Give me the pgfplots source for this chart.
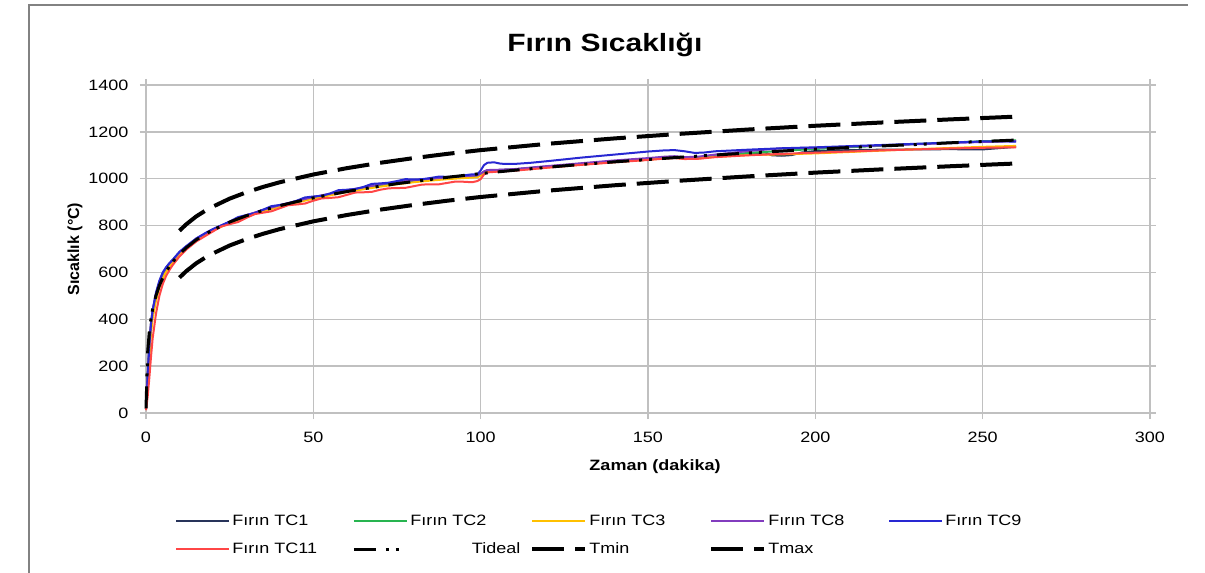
\documentclass[border=0pt]{standalone}
\usepackage{fontspec}
\setmainfont{Liberation Sans}[FakeStretch=1.2]
\newfontfamily\uprightsans{Liberation Sans}
\usepackage{pgfplots}
\pgfplotsset{compat=1.18}

\definecolor{tcone}{RGB}{40,52,90}
\definecolor{tctwo}{RGB}{40,180,80}
\definecolor{tcthree}{RGB}{255,192,0}
\definecolor{tceight}{RGB}{130,60,190}
\definecolor{tcnine}{RGB}{40,40,210}
\definecolor{tceleven}{RGB}{255,70,70}
\definecolor{gridgray}{RGB}{192,192,192}
\definecolor{framegray}{RGB}{130,130,130}

\newcommand\ticksfont{\fontsize{15}{16}\selectfont}

\begin{document}
\begin{tikzpicture}
\path[use as bounding box] (-146pt,-160pt) rectangle (1059pt,413pt);
\draw[framegray, line width=1.5pt] (-117pt,-160pt) -- (-117pt,408pt) -- (1042pt,408pt);

\begin{axis}[
    at={(0,0)}, anchor=south west,
    scale only axis, width=1004pt, height=328pt,
    clip=false,
    xmin=0, xmax=300, ymin=0, ymax=1400,
    xtick={0,50,...,300}, ytick={0,200,...,1400},
    /pgf/number format/1000 sep={},
    /pgf/number format/assume math mode=true,
    ticklabel style={font=\ticksfont},
    xticklabel style={yshift=-9pt},
    yticklabel style={xshift=-8pt},
    grid=major,
    major grid style={draw=gridgray, line width=1.3pt},
    axis line style={draw=gridgray, line width=1.3pt},
    tick style={draw=gridgray, line width=1.3pt},
    tick align=outside, major tick length=6pt,
    every axis plot/.append style={line join=round},
    legend image code/.code={\draw[#1, line cap=butt] (0pt,0pt) -- (53pt,0pt);},
    legend columns=5,
    legend cell align=left,
    legend style={
        at={(axis description cs:0.029,-0.302)}, anchor=north west,
        draw=none, fill=none, inner sep=0pt,
        font=\fontsize{15}{16}\selectfont,
        nodes={text width=110pt, text height=11pt, text depth=3pt, inner sep=2pt, align=left},
        /tikz/every even column/.append style={column sep=8pt},
        row sep=10pt,
    },
]

% Fırın TC1
\addplot[tcone, line width=2pt] coordinates {
(0,25) (0.5,170) (1,300) (1.5,385) (2,440) (3,505) (4,555) (5,590) (6,615) (7,635) (8,650)
(10,685) (12,708) (15,742) (18,768) (20,783) (25,815) (30,843) (35,866) (40,886) (45,903)
(50,921) (55,934) (60,949) (65,960) (70,972) (75,982) (80,991) (85,998) (90,1004) (95,1009)
(99,1012) (100,1020) (101,1030) (102,1036) (105,1037) (110,1040) (120,1052) (130,1064)
(140,1075) (150,1085) (155,1092) (158,1094) (161,1089) (165,1090) (170,1097) (180,1108)
(185,1112) (187,1100) (190,1098) (193,1101) (196,1112) (200,1118) (210,1122) (220,1124)
(230,1125) (240,1126) (250,1125) (260,1136)
};
\addlegendentry{Fırın TC1}

% Fırın TC2
\addplot[tctwo, line width=2pt] coordinates {
(0,20) (0.5,140) (1,270) (1.5,365) (2,425) (3,495) (4,548) (5,585) (6,612) (7,632) (8,648)
(10,682) (12,706) (15,740) (18,766) (20,781) (25,813) (30,841) (35,864) (40,884) (45,902)
(50,919) (55,933) (60,947) (65,959) (70,971) (75,981) (80,990) (85,997) (90,1003) (95,1008)
(99,1011) (100,1018) (101,1029) (102,1035) (105,1036) (110,1039) (120,1051) (130,1063)
(140,1074) (150,1084) (155,1091) (158,1093) (161,1088) (165,1089) (170,1097) (180,1110)
(190,1119) (200,1127) (210,1134) (220,1141) (230,1148) (240,1154) (250,1160) (260,1164)
};
\addlegendentry{Fırın TC2}

% Fırın TC3
\addplot[tcthree, line width=2pt] coordinates {
(0,20) (0.5,120) (1,240) (1.5,340) (2,405) (3,480) (4,535) (5,575) (6,603) (7,625) (8,642)
(10,678) (12,703) (15,737) (18,763) (20,779) (25,811) (30,838) (35,861) (40,881) (45,898)
(50,915) (55,929) (60,943) (65,955) (70,966) (75,976) (80,985) (85,992) (90,998) (95,1003)
(99,1006) (100,1013) (101,1025) (102,1031) (105,1033) (110,1036) (120,1048) (130,1060)
(140,1071) (150,1081) (155,1087) (158,1089) (161,1085) (165,1086) (170,1093) (180,1101)
(190,1104) (200,1108) (210,1114) (220,1120) (230,1126) (240,1131) (250,1136) (260,1140)
};
\addlegendentry{Fırın TC3}

% Fırın TC8
\addplot[tceight, line width=2pt] coordinates {
(0,22) (0.5,160) (1,295) (1.5,382) (2,438) (3,510) (4,560) (5,596) (6,620) (7,638) (8,652)
(10,686) (12,710) (15,744) (18,769) (20,784) (25,816) (30,844) (35,867) (40,887) (45,905)
(50,922) (55,936) (60,951) (65,963) (70,976) (75,986) (80,994) (85,1000) (90,1006) (95,1011)
(99,1014) (100,1021) (101,1031) (102,1037) (105,1038) (110,1041) (120,1054) (130,1066)
(140,1078) (150,1088) (155,1094) (158,1096) (161,1092) (165,1094) (170,1103) (180,1118)
(185,1124) (190,1130) (195,1131) (200,1132) (210,1137) (220,1142) (230,1147) (240,1152)
(250,1157) (260,1160)
};
\addlegendentry{Fırın TC8}

% Fırın TC9
\addplot[tcnine, line width=2pt] coordinates {
(0,20) (0.5,150) (1,290) (1.5,380) (2,440) (3,515) (4,565) (5,600) (6,622) (7,640) (8,655)
(10,688) (12,712) (15,745) (18,770) (20,785) (25,817) (27.5,836) (30,845) (32.5,853)
(35,868) (37.5,883) (40,888) (42.5,895) (45,906) (47.5,920) (50,924) (52.5,927) (55,937)
(57.5,951) (60,953) (62.5,956) (65,965) (67.5,978) (70,980) (72.5,983) (75,990) (77.5,998)
(80,997) (82.5,998) (85,1003) (87.5,1009) (90,1008) (92.5,1009) (95,1014) (97.5,1019)
(99,1018) (100,1035) (101,1058) (102,1068) (104,1070) (106,1064) (110,1063) (115,1068)
(120,1075) (130,1090) (140,1103) (150,1116) (155,1121) (158,1122) (161,1117) (164,1110)
(167,1112) (170,1117) (180,1124) (190,1130) (200,1134) (210,1139) (220,1144) (230,1149)
(240,1154) (250,1159) (255,1160) (260,1158)
};
\addlegendentry{Fırın TC9}

% Fırın TC11
\addplot[tceleven, line width=2pt] coordinates {
(0,12) (0.5,70) (1,150) (1.5,240) (2,320) (3,425) (4,500) (5,550) (6,585) (7,610) (8,632)
(10,668) (12,697) (15,732) (18,758) (20,775) (22.5,796) (25,806) (27.5,815) (30,833)
(32.5,849) (35,855) (37.5,861) (40,874) (42.5,887) (45,890) (47.5,894) (50,906) (52.5,916)
(55,918) (57.5,921) (60,931) (62.5,941) (65,942) (67.5,944) (70,953) (72.5,959) (75,960)
(77.5,961) (80,968) (82.5,975) (85,976) (87.5,976) (90,982) (92.5,988) (95,987) (97.5,985)
(99,990) (100,998) (101,1018) (102,1027) (105,1030) (110,1034) (120,1047) (130,1059)
(140,1070) (150,1080) (155,1086) (158,1088) (161,1084) (165,1085) (170,1092) (180,1100)
(190,1106) (200,1111) (210,1116) (220,1121) (230,1125) (240,1129) (250,1132) (260,1134)
};
\addlegendentry{Fırın TC11}

% Tideal
\addplot[black, line width=3pt, dash pattern=on 22pt off 10pt on 3pt off 7pt on 3pt off 10pt] coordinates {
(0,20) (0.5,261) (1,349) (1.5,404) (2,445) (3,502) (4,544) (5,576) (6,603) (7,626) (8,645)
(10,678) (12,705) (15,739) (18,766) (20,781) (25,815) (30,842) (35,865) (40,885) (45,902)
(50,918) (55,932) (60,945) (65,957) (70,968) (75,979) (80,988) (85,997) (90,1006) (95,1014)
(100,1022) (110,1036) (120,1049) (130,1061) (140,1072) (150,1082) (160,1092) (170,1101)
(180,1110) (190,1118) (200,1126) (210,1133) (220,1140) (230,1146) (240,1153) (250,1159)
(260,1165)
};
\addlegendentry{\hfill Tideal}

% Tmin
\addplot[black, line width=4pt, dash pattern=on 32pt off 11pt] coordinates {
(10,578) (12,605) (15,639) (18,666) (20,681) (25,715) (30,742) (35,765) (40,785) (50,818)
(60,845) (70,868) (80,888) (90,906) (100,922) (120,949) (140,972) (160,992) (180,1010)
(200,1026) (220,1040) (240,1053) (260,1065)
};
\addlegendentry{Tmin}

% Tmax
\addplot[black, line width=4pt, dash pattern=on 32pt off 11pt] coordinates {
(10,778) (12,805) (15,839) (18,866) (20,881) (25,915) (30,942) (35,965) (40,985) (50,1018)
(60,1045) (70,1068) (80,1088) (90,1106) (100,1122) (120,1149) (140,1172) (160,1192)
(180,1210) (200,1226) (220,1240) (240,1253) (260,1265)
};
\addlegendentry{Tmax}

\node[font=\fontsize{25}{28}\selectfont\bfseries] at (axis description cs:0.457,1.122) {Fırın Sıcaklığı};
\node[font=\fontsize{15}{16}\selectfont\bfseries] at (axis description cs:0.507,-0.165) {Zaman (dakika)};
\node[rotate=90, font=\uprightsans\fontsize{16}{18}\selectfont\bfseries] at (axis description cs:-0.0707,0.5) {Sıcaklık (°C)};
\end{axis}
\end{tikzpicture}
\end{document}
